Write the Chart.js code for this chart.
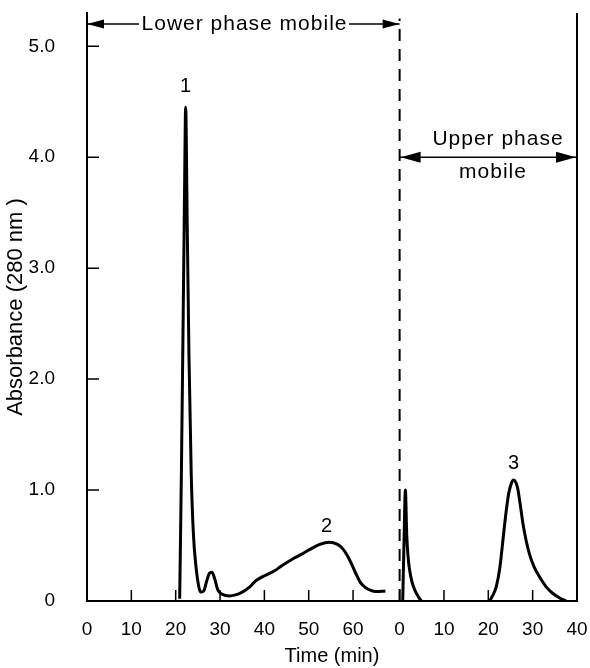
<!DOCTYPE html>
<html>
<head>
<meta charset="utf-8">
<script src="https://cdn.jsdelivr.net/npm/chart.js@4/dist/chart.umd.min.js"></script>
<style>
  html, body { margin: 0; padding: 0; background: #fff; }
  canvas { display: block; }
</style>
</head>
<body>
<canvas id="chromChart" width="590" height="668"></canvas>
<script>
// Lower phase mobile (time in min from start)
const lowerTime = [20.9, 21.3, 21.7, 22.0, 22.25, 22.6, 23.0, 23.5, 24.0, 24.6, 25.2, 25.6, 26.3, 27.0, 27.6, 28.2, 28.8, 29.5, 30.5, 32.1, 33.5, 34.8, 36.5, 38.0, 39.6, 42.2, 44.0, 46.0, 48.3, 50.5, 52.5, 54.6, 56.5, 57.7, 58.7, 59.7, 60.6, 61.6, 62.8, 64.0, 65.1, 66.3, 67.3];
const lowerAbs  = [0.02, 1.2, 2.6, 3.7, 4.45, 3.4, 2.2, 1.15, 0.6, 0.3, 0.13, 0.08, 0.09, 0.18, 0.25, 0.26, 0.2, 0.1, 0.06, 0.045, 0.055, 0.075, 0.12, 0.18, 0.22, 0.27, 0.32, 0.37, 0.42, 0.47, 0.51, 0.53, 0.51, 0.47, 0.41, 0.33, 0.25, 0.17, 0.12, 0.095, 0.085, 0.087, 0.09];

// Upper phase mobile (time in min from the switch), null breaks the trace
const upperTime = [0.7, 1.0, 1.3, 1.6, 1.9, 2.25, 2.8, 3.4, 4.2, 4.9, null, 20.3, 21.0, 21.8, 22.6, 23.3, 24.0, 24.6, 25.2, 25.7, 26.2, 26.6, 27.2, 27.8, 28.5, 29.3, 30.3, 31.5, 33.0, 34.5, 36.0, 37.5];
const upperAbs  = [0.0, 0.55, 1.0, 0.6, 0.4, 0.28, 0.17, 0.1, 0.04, 0.0, null, 0.0, 0.05, 0.13, 0.3, 0.55, 0.8, 0.97, 1.06, 1.09, 1.07, 1.02, 0.87, 0.7, 0.55, 0.42, 0.31, 0.22, 0.13, 0.07, 0.03, 0.0];

const switchTime = 70.5;          // where the upper phase run starts on the shared axis
const upperLength = 40;
const lowerTicks = [0, 10, 20, 30, 40, 50, 60];
const upperTicks = [0, 10, 20, 30, 40];
const yTicks = [0, 1, 2, 3, 4, 5];

const peakLabels = [
    { text: '1', x: 22.25, y: 4.64 },
    { text: '2', x: 54.0, y: 0.67 },
    { text: '3', x: switchTime + 25.7, y: 1.24 }
];

const FONT = '"Liberation Sans", Arial, Helvetica, sans-serif';

function toPoints(xs, ys, offset) {
    return xs.map(function(t, i) {
        if (t === null) return { x: null, y: null };
        return { x: t + offset, y: ys[i] };
    });
}

function arrowHead(ctx, x, y, dir, len, half) {
    ctx.beginPath();
    ctx.moveTo(x, y);
    ctx.lineTo(x - dir * len, y - half);
    ctx.lineTo(x - dir * len, y + half);
    ctx.closePath();
    ctx.fill();
}

const overlay = {
    id: 'overlay',
    afterDatasetsDraw(chart) {
        const ctx = chart.ctx;
        const area = chart.chartArea;
        const x = chart.scales.x;
        const y = chart.scales.y;
        const y0 = y.getPixelForValue(0);
        const x0 = x.getPixelForValue(0);
        const xEnd = x.getPixelForValue(switchTime + upperLength);

        ctx.save();
        ctx.strokeStyle = '#000';
        ctx.fillStyle = '#000';

        // right axis line
        ctx.lineWidth = 2;
        ctx.beginPath();
        ctx.moveTo(xEnd, area.top);
        ctx.lineTo(xEnd, y0);
        ctx.stroke();

        // inward tick marks
        ctx.lineWidth = 1.5;
        ctx.beginPath();
        lowerTicks.concat(upperTicks.map(function(v) { return v + switchTime; })).forEach(function(v) {
            const px = x.getPixelForValue(v);
            ctx.moveTo(px, y0);
            ctx.lineTo(px, y0 - 11);
        });
        yTicks.forEach(function(v) {
            const py = y.getPixelForValue(v);
            ctx.moveTo(x0, py);
            ctx.lineTo(x0 + 12, py);
        });
        ctx.stroke();

        // peak numbers
        ctx.font = '20px ' + FONT;
        ctx.textAlign = 'center';
        ctx.textBaseline = 'middle';
        peakLabels.forEach(function(p) {
            ctx.fillText(p.text, x.getPixelForValue(p.x), y.getPixelForValue(p.y));
        });

        // "Lower phase mobile" arrow
        ctx.font = '21px ' + FONT;
        ctx.letterSpacing = '1px';
        const xs = x.getPixelForValue(switchTime);
        const ay = y.getPixelForValue(5.2);
        const label = 'Lower phase mobile';
        const cx = 244;
        const w = ctx.measureText(label).width;
        ctx.fillText(label, cx + 0.5, ay);
        ctx.lineWidth = 1.5;
        ctx.beginPath();
        ctx.moveTo(x0, ay);
        ctx.lineTo(cx - w / 2 - 2, ay);
        ctx.moveTo(cx + w / 2 + 2, ay);
        ctx.lineTo(xs, ay);
        ctx.stroke();
        arrowHead(ctx, x0, ay, -1, 17, 4.5);
        arrowHead(ctx, xs, ay, 1, 17, 4.5);

        // "Upper phase mobile" arrow
        const by = y.getPixelForValue(4.0);
        ctx.fillText('Upper phase', 498, by - 18);
        ctx.fillText('mobile', 493, by + 15);
        ctx.beginPath();
        ctx.moveTo(xs, by);
        ctx.lineTo(xEnd, by);
        ctx.stroke();
        arrowHead(ctx, xs + 1, by, -1, 20, 5.5);
        arrowHead(ctx, xEnd - 1, by, 1, 20, 5.5);

        ctx.restore();
    }
};

new Chart(document.getElementById('chromChart').getContext('2d'), {
    type: 'line',
    data: {
        datasets: [{
            label: 'Lower phase',
            data: toPoints(lowerTime, lowerAbs, 0),
            borderColor: '#000',
            borderWidth: 3,
            pointRadius: 0,
            cubicInterpolationMode: 'monotone',
            fill: false
        }, {
            label: 'Upper phase',
            data: toPoints(upperTime, upperAbs, switchTime),
            borderColor: '#000',
            borderWidth: 3,
            pointRadius: 0,
            spanGaps: false,
            cubicInterpolationMode: 'monotone',
            fill: false
        }, {
            label: 'Phase switch',
            data: [{ x: switchTime, y: 0 }, { x: switchTime, y: 5.25 }],
            borderColor: '#000',
            borderWidth: 2,
            borderDash: [12, 8],
            pointRadius: 0,
            fill: false
        }]
    },
    options: {
        responsive: false,
        animation: false,
        devicePixelRatio: 1,
        layout: { padding: { top: 13, right: 13, left: 0, bottom: 0 } },
        plugins: {
            legend: { display: false },
            tooltip: { enabled: false }
        },
        scales: {
            x: {
                type: 'linear',
                min: 0,
                max: switchTime + upperLength,
                grid: { display: false },
                border: { display: true, color: '#000', width: 2 },
                afterBuildTicks: function(scale) {
                    scale.ticks = lowerTicks.map(function(v) { return { value: v }; })
                        .concat(upperTicks.map(function(v) { return { value: v + switchTime }; }));
                },
                afterFit: function(scale) {
                    scale.height = 67;
                    scale.paddingLeft = 0;
                    scale.paddingRight = 0;
                },
                ticks: {
                    autoSkip: false,
                    maxRotation: 0,
                    padding: 9,
                    color: '#000',
                    font: { family: FONT, size: 19 },
                    callback: function(value) {
                        const v = value >= switchTime ? value - switchTime : value;
                        return String(Math.round(v));
                    }
                },
                title: {
                    display: true,
                    text: 'Time (min)',
                    color: '#000',
                    font: { family: FONT, size: 20 },
                    padding: { top: 0, bottom: 0 }
                }
            },
            y: {
                min: 0,
                max: 5.3,
                grid: { display: false },
                border: { display: true, color: '#000', width: 2 },
                afterBuildTicks: function(scale) {
                    scale.ticks = yTicks.map(function(v) { return { value: v }; });
                },
                afterFit: function(scale) {
                    scale.width = 87;
                    scale.paddingTop = 0;
                    scale.paddingBottom = 0;
                },
                ticks: {
                    padding: 24,
                    color: '#000',
                    font: { family: FONT, size: 19 },
                    callback: function(value) {
                        return value === 0 ? '0' : value.toFixed(1);
                    }
                },
                title: {
                    display: true,
                    text: 'Absorbance (280 nm )',
                    color: '#000',
                    font: { family: FONT, size: 22 },
                    padding: { top: 3, bottom: 0 }
                }
            }
        }
    },
    plugins: [overlay]
});
</script>
</body>
</html>
